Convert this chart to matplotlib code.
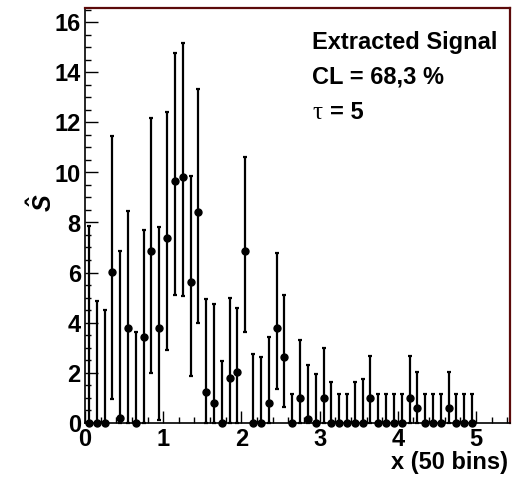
import matplotlib
matplotlib.use("Agg")
import matplotlib.pyplot as plt
from matplotlib.ticker import MultipleLocator
import numpy as np

# ---- data ----
bin_lo_edge = 0.0
bin_width = 0.1
n_bins = 50
values = [0, 0, 0, 6.03, 0.19, 3.80, 0, 3.43, 6.85, 3.80,
          7.39, 9.64, 9.83, 5.61, 8.40, 1.21, 0.79, 0, 1.80, 2.01,
          6.84, 0, 0, 0.79, 3.80, 2.61, 0, 1.00, 0.16, 0,
          1.00, 0, 0, 0, 0, 0, 1.00, 0, 0, 0,
          0, 1.00, 0.57, 0, 0, 0, 0.57, 0, 0, 0]
lower = [0, 0, 0, 0.96, 0, 0, 0, 0, 2.00, 0.10,
         2.89, 5.12, 5.07, 1.87, 4.00, 0, 0, 0, 0, 0,
         3.63, 0, 0, 0, 1.33, 0.63, 0, 0, 0, 0,
         0, 0, 0, 0, 0, 0, 0, 0, 0, 0,
         0, 0, 0, 0, 0, 0, 0, 0, 0, 0]
upper = [7.84, 4.87, 4.49, 11.45, 6.87, 8.44, 3.63, 7.69, 12.16, 7.81,
         12.41, 14.79, 15.16, 9.84, 13.35, 4.96, 4.76, 2.45, 4.99, 4.57,
         10.63, 2.76, 2.63, 3.43, 6.79, 5.09, 1.15, 3.29, 2.29, 1.93,
         2.97, 1.64, 1.13, 1.13, 1.64, 1.73, 2.67, 1.13, 1.13, 1.13,
         1.13, 2.67, 2.04, 1.13, 1.13, 1.13, 2.04, 1.13, 1.13, 1.13]
text_lines = ["Extracted Signal", "CL = 68,3 %"]
tau_text = "= 5"
x_label = "x (50 bins)"

x = bin_lo_edge + bin_width * (np.arange(n_bins) + 0.5)
v = np.array(values)
lo = np.array(lower)
hi = np.array(upper)

plt.rcParams['font.family'] = ['Liberation Sans', 'DejaVu Sans']
plt.rcParams['font.weight'] = 'bold'
plt.rcParams['mathtext.fontset'] = 'custom'
plt.rcParams['mathtext.it'] = 'Liberation Sans:italic:bold'
plt.rcParams['mathtext.rm'] = 'Liberation Sans:bold'

W, H = 516, 482
fig = plt.figure(figsize=(W / 100, H / 100), dpi=100)
ax = fig.add_axes([85 / W, 1 - 422.5 / H, 425 / W, 414.5 / H])

ax.errorbar(x, v, yerr=[v - lo, hi - v], fmt='o', color='black',
            markersize=5, elinewidth=1.6, capsize=1.6, capthick=1.6,
            clip_on=False, zorder=3)

ax.set_xlim(0, 5.435)
ax.set_ylim(0, 16.58)

ax.xaxis.set_major_locator(MultipleLocator(1))
ax.xaxis.set_minor_locator(MultipleLocator(0.2))
ax.yaxis.set_major_locator(MultipleLocator(2))
ax.yaxis.set_minor_locator(MultipleLocator(0.5))

ax.tick_params(axis='both', which='major', direction='in', length=9,
               width=1, labelsize=17, color='black')
ax.tick_params(axis='both', which='minor', direction='in', length=4.5,
               width=1, color='black')
ax.tick_params(axis='x', which='major', pad=4)
ax.tick_params(axis='y', which='major', pad=3)
for lab in ax.get_xticklabels() + ax.get_yticklabels():
    lab.set_fontweight('bold')

for s in ['left', 'bottom']:
    ax.spines[s].set_color('black')
    ax.spines[s].set_linewidth(1.2)
for s in ['top', 'right']:
    ax.spines[s].set_color('#5c0a0a')
    ax.spines[s].set_linewidth(1.6)

ax.set_ylabel(r'$\hat{S}$', fontsize=18, rotation=90)
ax.yaxis.set_label_coords((57 - 85) / 425, (422.5 - 203) / 414.5)
ax.set_xlabel(x_label, fontsize=17, fontweight='bold', ha='right')
ax.xaxis.set_label_coords((508 - 85) / 425, (422.5 - 463) / 414.5)
ax.xaxis.label.set_va('center')

# annotation texts (figure pixel coordinates)
def fx(px):
    return px / W

def fy(py):
    return 1 - py / H

fig.text(fx(312), fy(42), text_lines[0], fontsize=17, fontweight='bold',
         va='center', ha='left')
fig.text(fx(312), fy(77), text_lines[1], fontsize=17, fontweight='bold',
         va='center', ha='left')
fig.text(fx(312), fy(113), "τ", fontsize=18, family=['Liberation Serif', 'DejaVu Serif'],
         fontweight='normal', va='center', ha='left')
fig.text(fx(330), fy(112), tau_text, fontsize=17, fontweight='bold',
         va='center', ha='left')

fig.savefig("out.png", dpi=100)
